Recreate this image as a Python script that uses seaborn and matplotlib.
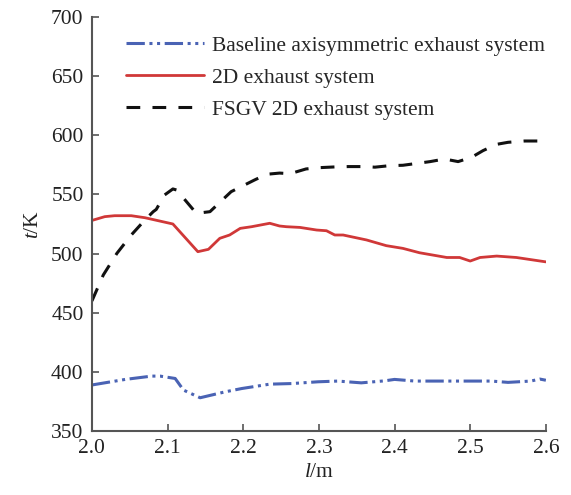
import matplotlib
matplotlib.use("Agg")
import matplotlib.pyplot as plt
import seaborn as sns
from matplotlib.ticker import FormatStrFormatter

# Baseline axisymmetric exhaust system
l_base = [2.0, 2.044, 2.079, 2.09, 2.11, 2.121, 2.143, 2.176, 2.198, 2.235, 2.264,
          2.299, 2.325, 2.356, 2.387, 2.4, 2.427, 2.46, 2.5, 2.528, 2.55, 2.58, 2.592, 2.6]
t_base = [389, 393.7, 396.5, 396.5, 394.5, 384.7, 378.2, 383.2, 386, 389.7, 390.2,
          391.7, 392.3, 390.8, 392.5, 393.7, 392.3, 392.3, 392.3, 392.3, 391.2, 392.3, 394, 393]

# 2D exhaust system
l_2d = [2.0, 2.017, 2.03, 2.052, 2.07, 2.107, 2.14, 2.154, 2.169, 2.182, 2.196, 2.211,
        2.235, 2.248, 2.257, 2.275, 2.297, 2.31, 2.321, 2.332, 2.363, 2.389, 2.411, 2.433,
        2.469, 2.486, 2.5, 2.513, 2.535, 2.561, 2.6]
t_2d = [528, 531.2, 532, 532, 530.3, 525, 501.6, 503.6, 512.9, 515.7, 521.3, 522.7,
        525.6, 523.3, 522.7, 522.1, 519.9, 519.3, 515.7, 515.7, 511.5, 506.7, 504.4, 500.7,
        496.7, 496.7, 493.7, 496.7, 497.9, 496.7, 493]

# FSGV 2D exhaust system
l_fsgv = [2.0, 2.015, 2.033, 2.052, 2.07, 2.081, 2.085, 2.096, 2.107, 2.112, 2.138,
          2.156, 2.184, 2.215, 2.231, 2.248, 2.262, 2.283, 2.301, 2.321, 2.339, 2.358,
          2.374, 2.394, 2.411, 2.431, 2.447, 2.466, 2.484, 2.502, 2.517, 2.535, 2.55,
          2.572, 2.59]
t_fsgv = [460, 481.9, 500.2, 515.7, 528.4, 535.4, 537.3, 549.5, 554.6, 553.7, 534,
          535.4, 552.3, 562.2, 567, 568, 567.5, 571.5, 572.6, 573.2, 573.5, 573.5,
          573, 574.3, 574.6, 576.3, 577.7, 579.9, 577.7, 581.4, 587, 592.3, 594,
          595.1, 595.1]

sns.set_style("ticks")
plt.rcParams["font.family"] = ["Liberation Serif", "DejaVu Serif"]
plt.rcParams["mathtext.fontset"] = "custom"
plt.rcParams["mathtext.it"] = "Liberation Serif:italic"
plt.rcParams["mathtext.rm"] = "Liberation Serif"

fs = 15.5

fig, ax = plt.subplots(figsize=(5.71, 4.95), dpi=100)
fig.subplots_adjust(left=0.161, right=0.956, top=0.966, bottom=0.129)

sns.lineplot(x=l_base, y=t_base, ax=ax, color="#4a63b4", linewidth=2.2,
             linestyle=(0, (6, 1.5, 1, 1.5, 1, 1.5)),
             label="Baseline axisymmetric exhaust system")
sns.lineplot(x=l_2d, y=t_2d, ax=ax, color="#d03838", linewidth=2.0,
             label="2D exhaust system")
sns.lineplot(x=l_fsgv, y=t_fsgv, ax=ax, color="#111111", linewidth=2.2,
             linestyle=(0, (4.5, 4)), label="FSGV 2D exhaust system")

ax.set_xlim(2.0, 2.6)
ax.set_ylim(350, 700)
ax.set_xticks([2.0, 2.1, 2.2, 2.3, 2.4, 2.5, 2.6])
ax.set_yticks(range(350, 701, 50))
ax.xaxis.set_major_formatter(FormatStrFormatter("%.1f"))
ax.tick_params(direction="in", length=5, width=1.2, color="#555555",
               labelsize=fs, labelcolor="#222222", pad=6)
for side in ["top", "right"]:
    ax.spines[side].set_visible(False)
for side in ["left", "bottom"]:
    ax.spines[side].set_color("#555555")
    ax.spines[side].set_linewidth(1.5)

ax.set_xlabel("$l$/m", fontsize=fs, color="#222222", labelpad=3)
ax.set_ylabel("$t$/K", fontsize=fs, color="#222222", labelpad=6)

ax.legend(loc="upper right", frameon=False, fontsize=fs, handlelength=3.6,
          handletextpad=0.37, labelspacing=0.55, borderaxespad=0.0,
          bbox_to_anchor=(1.016, 0.975))

fig.savefig("out.png", dpi=100)
